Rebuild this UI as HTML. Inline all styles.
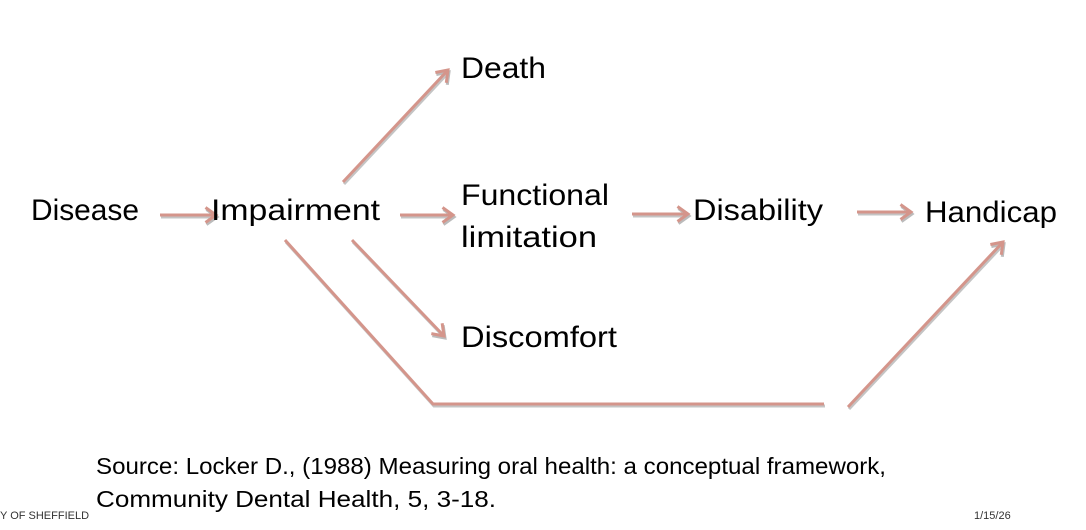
<!DOCTYPE html>
<html><head><meta charset="utf-8"><style>
body{margin:0;background:#fff;}
svg{display:block;font-family:"Liberation Sans",sans-serif;}
</style></head><body>
<svg width="1086" height="530" viewBox="0 0 1086 530" xmlns="http://www.w3.org/2000/svg">
<defs>
<marker id="a" markerWidth="6" markerHeight="6" refX="4" refY="3" orient="auto" markerUnits="strokeWidth">
<path d="M0.5,0.5 L4,3 L0.5,5.5" fill="none" stroke="#d4958b" stroke-width="1"/>
</marker>
<marker id="s" markerWidth="6" markerHeight="6" refX="4" refY="3" orient="auto" markerUnits="strokeWidth">
<path d="M0.5,0.5 L4,3 L0.5,5.5" fill="none" stroke="#bbb" stroke-width="1"/>
</marker>
</defs>
<g stroke="#c4c4c4" stroke-width="3" fill="none" transform="translate(1,2)">
<line x1="160" y1="215" x2="216" y2="215" marker-end="url(#s)"/>
<line x1="400" y1="215" x2="453" y2="215" marker-end="url(#s)"/>
<line x1="632" y1="214" x2="688" y2="214" marker-end="url(#s)"/>
<line x1="857" y1="212" x2="911" y2="212" marker-end="url(#s)"/>
<line x1="343" y1="182" x2="448" y2="70" marker-end="url(#s)"/>
<line x1="352" y1="240" x2="444" y2="336" marker-end="url(#s)"/>
<polyline points="285,240 433,404 824,404"/>
<line x1="848" y1="407" x2="1003" y2="242" marker-end="url(#s)"/>
</g>
<g stroke="#d4958b" stroke-width="3" fill="none">
<line x1="160" y1="215" x2="216" y2="215" marker-end="url(#a)"/>
<line x1="400" y1="215" x2="453" y2="215" marker-end="url(#a)"/>
<line x1="632" y1="214" x2="688" y2="214" marker-end="url(#a)"/>
<line x1="857" y1="212" x2="911" y2="212" marker-end="url(#a)"/>
<line x1="343" y1="182" x2="448" y2="70" marker-end="url(#a)"/>
<line x1="352" y1="240" x2="444" y2="336" marker-end="url(#a)"/>
<polyline points="285,240 433,404 824,404"/>
<line x1="848" y1="407" x2="1003" y2="242" marker-end="url(#a)"/>
</g>
<g font-size="30" fill="#000" lengthAdjust="spacingAndGlyphs">
<text x="31" y="220" textLength="108" lengthAdjust="spacingAndGlyphs">Disease</text>
<text x="211" y="220" textLength="169" lengthAdjust="spacingAndGlyphs">Impairment</text>
<text x="461" y="78" textLength="85" lengthAdjust="spacingAndGlyphs">Death</text>
<text x="461" y="205" textLength="148" lengthAdjust="spacingAndGlyphs">Functional</text>
<text x="461" y="247" textLength="136" lengthAdjust="spacingAndGlyphs">limitation</text>
<text x="693" y="220" textLength="130" lengthAdjust="spacingAndGlyphs">Disability</text>
<text x="925" y="222" textLength="132" lengthAdjust="spacingAndGlyphs">Handicap</text>
<text x="461" y="347" textLength="156" lengthAdjust="spacingAndGlyphs">Discomfort</text>
</g>
<g font-size="23" fill="#000">
<text x="96" y="474" textLength="790" lengthAdjust="spacingAndGlyphs">Source: Locker D., (1988) Measuring oral health: a conceptual framework,</text>
<text x="96" y="507" textLength="400" lengthAdjust="spacingAndGlyphs">Community Dental Health, 5, 3-18.</text>
</g>
<text x="0" y="519" font-size="11" fill="#333">Y OF SHEFFIELD</text>
<text x="974" y="519" font-size="11" fill="#333">1/15/26</text>
</svg>
</body></html>
